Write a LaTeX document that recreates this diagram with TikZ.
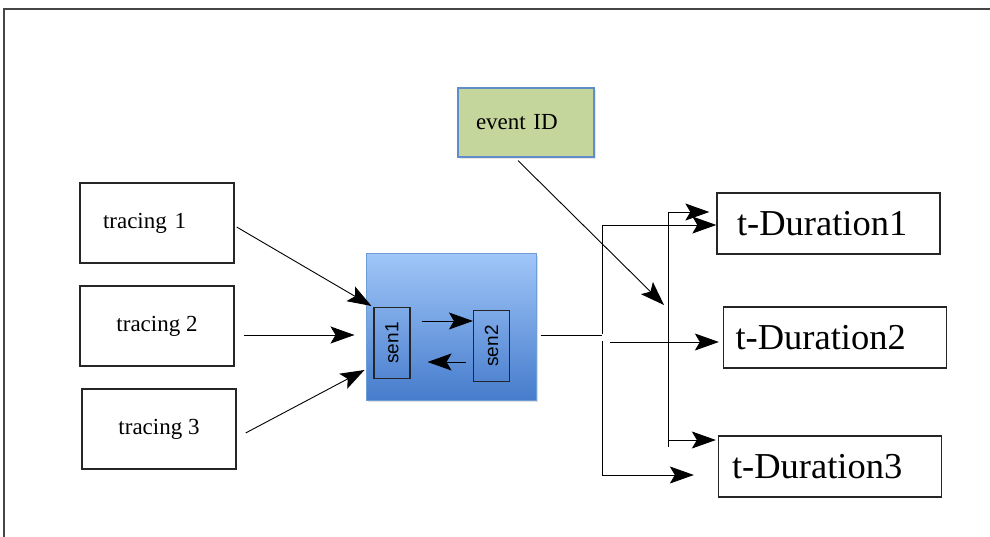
\documentclass[tikz,border=0pt]{standalone}
\usepackage{fontspec}
\usepackage{graphicx}
\setmainfont{Liberation Serif}
\newfontfamily\senfont{Liberation Sans}
\usetikzlibrary{arrows.meta,positioning,calc,shadows}
\definecolor{skytop}{RGB}{160,198,248}
\definecolor{skybot}{RGB}{70,124,204}
\definecolor{skyline}{RGB}{112,156,214}
\definecolor{olive}{RGB}{196,214,155}
\definecolor{oliveline}{RGB}{96,140,200}
\definecolor{framegray}{RGB}{70,70,70}
\tikzset{
  >={Stealth[length=24pt,width=17pt,inset=5pt]},
  plain box/.style={draw=black!85,line width=1.3pt,align=center,inner sep=0pt,
    font=\rmfamily\fontsize{23}{27}\selectfont},
  tracing/.style={plain box,minimum width=154pt,minimum height=80pt},
  duration/.style={plain box,minimum width=223pt,minimum height=61pt,align=left,
    font=\rmfamily\fontsize{36.5}{42}\selectfont},
  sensor/.style={draw=black!85,line width=1.1pt,minimum width=36pt,minimum height=71pt,
    inner sep=0pt,font=\senfont\fontsize{19}{21}\selectfont},
  core/.style={draw=skyline,line width=1pt,top color=skytop,bottom color=skybot,
    minimum width=170pt,minimum height=146pt,
    drop shadow={opacity=0.25,shadow xshift=2pt,shadow yshift=-2pt}},
  event/.style={draw=oliveline,line width=1.2pt,fill=olive,minimum width=136pt,
    minimum height=69pt,inner xsep=18pt,text width=100pt,align=left,
    font=\rmfamily\fontsize{23}{27}\selectfont,
    drop shadow={opacity=0.2,shadow xshift=2pt,shadow yshift=-2pt}},
  wire/.style={line width=0.9pt,draw=black},
  flow/.style={wire,->},
}

\begin{document}
\begin{tikzpicture}[x=1pt,y=-1pt]
  \useasboundingbox (0,0) rectangle (990,537);
  \draw[framegray,line width=1.5pt] (990,9) -- (4,9) -- (4,537);

  % inputs
  \node[tracing,align=left,text width=108pt,inner xsep=23pt] (t1) at (157,223) {tracing 1};
  \node[tracing] (t2) at (157,326) {tracing 2};
  \node[tracing] (t3) at (159,429) {tracing 3};

  % sensor block
  \node[core] (core) at (451,327) {};
  \node[sensor] (sen1) at (392,343) {\rotatebox{90}{sen1}};
  \node[sensor] (sen2) at (491.5,346) {\rotatebox{90}{sen2}};

  \node[event] (ev) at (526,122.5) {event ID};

  % outputs
  \node[duration,inner xsep=20pt,text width=183pt] (d1) at (828.5,223.5) {t-Duration1};
  \node[duration,inner xsep=12pt,text width=199pt] (d2) at (835,337.5) {t-Duration2};
  \node[duration,inner xsep=13pt,text width=196pt] (d3) at (830,466.5) {t-Duration3};

  \coordinate (fork) at (602,335);
  \coordinate (forktop) at (602,225);
  \coordinate (forkbot) at (602,475);
  \coordinate (railtop) at (668,212);
  \coordinate (railbot) at (668,447);

  \draw[flow] ($(t1.east)+(2,4)$) -- ($(sen1.north west)+(-2,-1)$);
  \draw[flow] ($(t2.east)+(9,9)$) -- ($(core.west)+(-11,8)$);
  \draw[flow] ($(t3.east)+(9,4)$) -- ($(core.west)+(-1,43)$);
  \draw[flow] ($(sen1.east)+(11,-22)$) -- ($(sen2.west)+(0,-25)$);
  \draw[flow] ($(sen2.west)+(-7,16)$) -- ($(sen1.east)+(17,19)$);

  \draw[wire] ($(core.east)+(4,8)$) -- (fork);
  \draw[wire] (forktop) -- ($(fork)+(0,-1)$);
  \draw[wire] ($(fork)+(0,6)$) -- (forkbot);
  \draw[flow] (forktop) -- (forktop -| d1.west);
  \draw[flow] ($(fork)+(8,7)$) -- ($(d2.west)+(-4,4.5)$);
  \draw[flow] (forkbot) -- ($(forkbot -| d3.west)+(-24,0)$);

  \draw[wire] (railtop) -- (railbot);
  \draw[flow] (railtop) -- ($(railtop -| d1.west)+(-7,0)$);
  \draw[flow] ($(railbot)+(0,-7)$) -- ($(railbot -| d3.west)+(-2,-7)$);
  \draw[flow] ($(ev.south)+(-8,3)$) -- ($(railtop)+(-4,93)$);
\end{tikzpicture}
\end{document}
